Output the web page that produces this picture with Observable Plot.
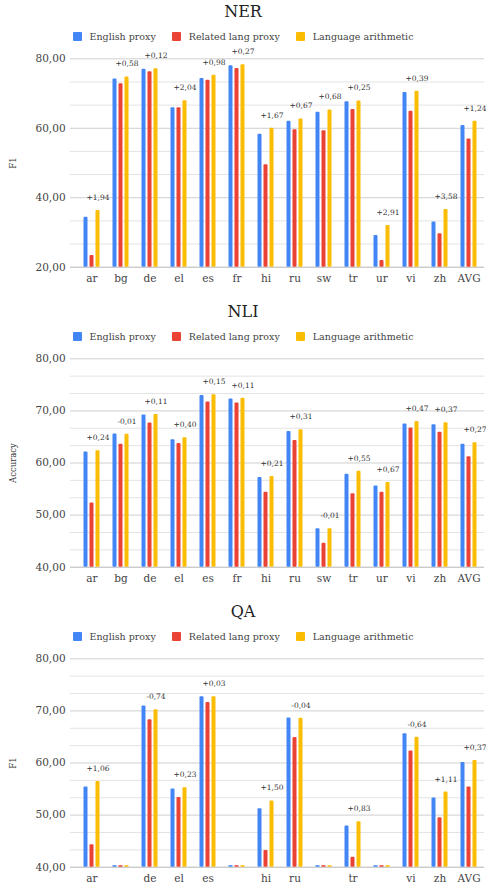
<!DOCTYPE html>
<html><head><meta charset="utf-8">
<script src="https://cdn.jsdelivr.net/npm/d3@7"></script>
<script src="https://cdn.jsdelivr.net/npm/@observablehq/plot@0.6"></script>
<style>
body{margin:0;background:#fff;font-family:"DejaVu Serif",serif;}
.panel{width:486px;height:300px;position:relative;overflow:hidden;}
.title{height:24px;line-height:24px;text-align:center;font-size:16px;color:#222;}
.legend{height:24px;display:flex;justify-content:center;align-items:center;font-size:9.5px;color:#444;gap:16px;}
.legend .item{display:flex;align-items:center;gap:8px;}
.legend .sw{width:9px;height:9px;border-radius:1px;}
.ylab{position:absolute;left:13px;font-size:8.5px;color:#333;transform:translate(-50%,-50%) rotate(-90deg);white-space:nowrap;}
</style></head>
<body>
<div id="root"></div>
<script>
const languages = ["ar","bg","de","el","es","fr","hi","ru","sw","tr","ur","vi","zh","AVG"];
const seriesNames = ["English proxy","Related lang proxy","Language arithmetic"];
const seriesColors = ["#4285F4","#EA4335","#FBBC04"];

// NER (F1)
const nerEnglish = [34.4,74.2,77.0,65.9,74.3,78.0,58.3,62.0,64.6,67.6,29.1,70.3,33.0,60.8];
const nerRelated = [23.4,72.8,76.3,65.9,73.8,77.2,49.5,59.6,59.3,65.4,21.9,64.9,29.6,56.9];
const nerArith   = [36.34,74.78,77.12,67.94,75.28,78.27,59.97,62.67,65.28,67.85,32.01,70.69,36.58,62.04];
const nerDelta   = ["+1,94","+0,58","+0,12","+2,04","+0,98","+0,27","+1,67","+0,67","+0,68","+0,25","+2,91","+0,39","+3,58","+1,24"];
const nerTickLabels = ["ar","bg","de","el","es","fr","hi","ru","sw","tr","ur","vi","zh","AVG"];
const nerMajor = [20,40,60,80];
const nerMinor = [26.67,33.33,46.67,53.33,66.67,73.33];

// NLI (Accuracy)
const nliEnglish = [62.1,65.55,69.2,64.45,72.95,72.3,57.2,66.05,47.4,57.85,55.6,67.5,67.35,63.6];
const nliRelated = [52.3,63.6,67.7,63.75,71.7,71.5,54.4,64.3,44.6,54.1,54.4,66.7,65.9,61.2];
const nliArith   = [62.34,65.54,69.31,64.85,73.1,72.41,57.41,66.36,47.39,58.4,56.27,67.97,67.72,63.87];
const nliDelta   = ["+0,24","-0,01","+0,11","+0,40","+0,15","+0,11","+0,21","+0,31","-0,01","+0,55","+0,67","+0,47","+0,37","+0,27"];
const nliTickLabels = ["ar","bg","de","el","es","fr","hi","ru","sw","tr","ur","vi","zh","AVG"];
const nliMajor = [40,50,60,70,80];
const nliMinor = [43.33,46.67,53.33,56.67,63.33,66.67,73.33,76.67];

// QA (F1)
const qaEnglish = [55.4,null,70.95,55.0,72.7,null,51.2,68.65,null,47.9,null,65.6,53.3,60.1];
const qaRelated = [44.3,null,68.3,53.4,71.6,null,43.2,64.9,null,41.9,null,62.3,49.5,55.4];
const qaArith   = [56.46,null,70.21,55.23,72.73,null,52.7,68.61,null,48.73,null,64.96,54.41,60.47];
const qaDelta   = ["+1,06",null,"-0,74","+0,23","+0,03",null,"+1,50","-0,04",null,"+0,83",null,"-0,64","+1,11","+0,37"];
const qaTickLabels = ["ar","","de","el","es","","hi","ru","","tr","","vi","zh","AVG"];
const qaMajor = [40,50,60,70,80];
const qaMinor = [43.33,46.67,53.33,56.67,63.33,66.67,73.33,76.67];

const panels = [
  {title:"NER", ylabel:"F1", values:[nerEnglish,nerRelated,nerArith], delta:nerDelta, ticks:nerTickLabels, major:nerMajor, minor:nerMinor},
  {title:"NLI", ylabel:"Accuracy", values:[nliEnglish,nliRelated,nliArith], delta:nliDelta, ticks:nliTickLabels, major:nliMajor, minor:nliMinor},
  {title:"QA", ylabel:"F1", values:[qaEnglish,qaRelated,qaArith], delta:qaDelta, ticks:qaTickLabels, major:qaMajor, minor:qaMinor}
];

const fmt = v => d3.format(".2f")(v).replace(".", ",");
const root = document.getElementById("root");
const offsets = [-6, 0, 6];

for (const p of panels) {
  const panel = document.createElement("div");
  panel.className = "panel";
  const t = document.createElement("div");
  t.className = "title"; t.textContent = p.title;
  panel.appendChild(t);
  const lg = document.createElement("div");
  lg.className = "legend";
  seriesNames.forEach((s, i) => {
    const it = document.createElement("div"); it.className = "item";
    const sw = document.createElement("div"); sw.className = "sw"; sw.style.background = seriesColors[i];
    const tx = document.createElement("span"); tx.textContent = s;
    it.appendChild(sw); it.appendChild(tx); lg.appendChild(it);
  });
  panel.appendChild(lg);

  const base = p.major[0];
  const rows = seriesNames.map((s, si) => languages.map((lang, li) => ({lang, series: s, si, value: p.values[si][li], delta: p.delta[li]})));
  const barMarks = rows.map((r, si) => Plot.barY(r.filter(d => d.value != null), {
    x: "lang", y1: base, y2: "value", fill: seriesColors[si], dx: offsets[si], insetLeft: 12.5, insetRight: 12.5, rx: 1
  }));
  const stubMarks = rows.map((r, si) => Plot.barY(r.filter(d => d.value == null), {
    x: "lang", y1: base, y2: base, fill: seriesColors[si], dx: offsets[si], insetLeft: 12.5, insetRight: 12.5, insetTop: -1.5
  }));
  const labelData = rows[2].filter(d => d.value != null && d.delta);

  const chart = Plot.plot({
    width: 486, height: 252,
    marginLeft: 70, marginRight: 2, marginTop: 10.3, marginBottom: 33.3,
    style: {fontFamily: "DejaVu Serif, serif", background: "white", overflow: "visible"},
    x: {domain: languages, range: [76.8, 483.2], padding: 0, axis: null},
    y: {domain: [base, p.major[p.major.length - 1]], axis: null},
    marks: [
      Plot.ruleY(p.minor, {stroke: "#e3e3e3", strokeWidth: 1}),
      Plot.ruleY(p.major.slice(1), {stroke: "#cfcfcf", strokeWidth: 1}),
      Plot.ruleY([base], {stroke: "#b5b5b5", strokeWidth: 1}),
      Plot.text(p.major, {x: null, frameAnchor: "left", y: d => d, text: d => fmt(d), dx: -35, textAnchor: "start", fontSize: 10.5, fill: "#444"}),
      ...barMarks,
      ...stubMarks,
      Plot.text(labelData, {x: "lang", y: "value", text: "delta", dx: 6, dy: -13, fontSize: 7.5, fill: "#333"}),
      Plot.text(languages, {x: d => d, y: base, text: (d, i) => p.ticks[i], dy: 11, fontSize: 10.5, fill: "#444", lineAnchor: "middle"})
    ]
  });
  chart.style.display = "block";
  panel.appendChild(chart);
  const yl = document.createElement("div");
  yl.className = "ylab"; yl.textContent = p.ylabel;
  yl.style.top = (48 + 10.3 + (252 - 10.3 - 33.3) / 2) + "px";
  panel.appendChild(yl);
  root.appendChild(panel);
}
</script>
</body></html>
